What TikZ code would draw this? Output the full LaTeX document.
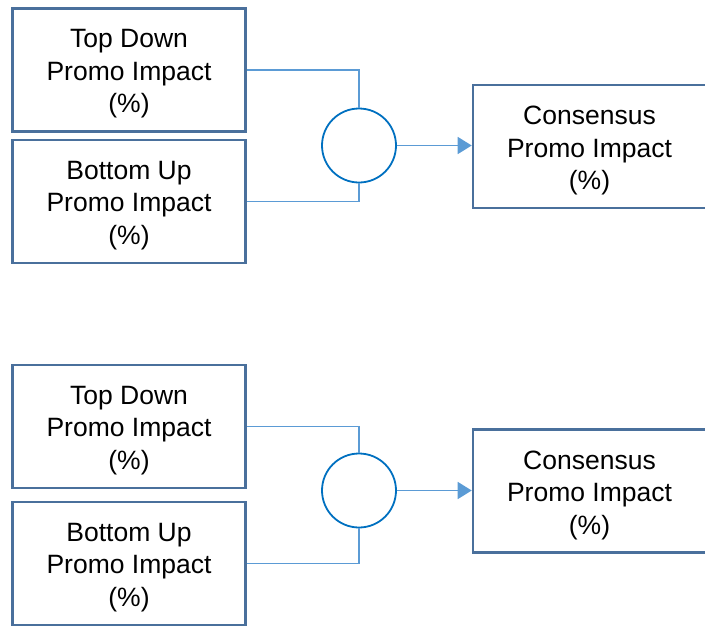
\documentclass[tikz,border=0pt]{standalone}
\usepackage{fontspec}
\setmainfont{Liberation Sans}
\usetikzlibrary{arrows.meta}
\definecolor{boxedge}{RGB}{74,112,156}
\definecolor{linkblue}{RGB}{91,155,213}
\definecolor{ringblue}{RGB}{0,112,192}
\begin{document}
\begin{tikzpicture}[x=1pt,y=-1pt,
  inbox/.style={draw=boxedge,line width=2.6pt,rectangle,minimum width=233pt,minimum height=123pt,inner sep=0pt},
  boxtext/.style={inner sep=0pt,align=center,font=\fontsize{26.5}{32.5}\selectfont},
  joint/.style={draw=ringblue,line width=1.8pt,circle,minimum size=74pt,inner sep=0pt},
  link/.style={draw=linkblue,line width=1.6pt},
  flow/.style={link,-{Triangle[length=14pt,width=17pt]}}]
\useasboundingbox (0,0) rectangle (705,627);

% a framed box with its three-line caption set a little low
\newcommand\promobox[3]{%
  \node[inbox] (#1) at #2 {};
  \node[boxtext] (#1-text) at ([yshift=-4pt]#1.center) {#3};}

% upper group
\promobox{td1}{(129,69.7)}{Top Down\\Promo Impact\\(\%)}
\promobox{bu1}{(129,201.5)}{Bottom Up\\Promo Impact\\(\%)}
\node[joint] (j1) at (359,145.5) {};
\promobox{cs1}{(589.5,146.5)}{Consensus\\Promo Impact\\(\%)}
\draw[link] (td1.east) -| (j1.north);
\draw[link] (bu1.east) -| (j1.south);
\draw[flow] (j1.east) -- (j1.east -| cs1.west);

% lower group
\promobox{td2}{(129,426.5)}{Top Down\\Promo Impact\\(\%)}
\promobox{bu2}{(129,563.5)}{Bottom Up\\Promo Impact\\(\%)}
\node[joint] (j2) at (359,490.5) {};
\promobox{cs2}{(589.5,491)}{Consensus\\Promo Impact\\(\%)}
\draw[link] (td2.east) -| (j2.north);
\draw[link] (bu2.east) -| (j2.south);
\draw[flow] (j2.east) -- (j2.east -| cs2.west);
\end{tikzpicture}
\end{document}
